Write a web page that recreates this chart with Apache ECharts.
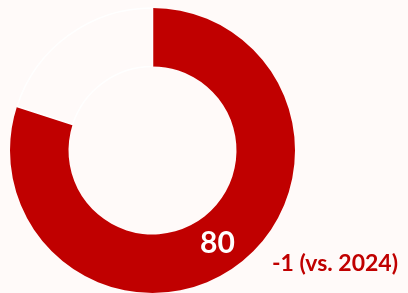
<!DOCTYPE html>
<html>
<head>
<meta charset="utf-8">
<script src="https://cdn.jsdelivr.net/npm/echarts@6/dist/echarts.min.js"></script>
<style>
  html, body { margin: 0; padding: 0; background: #FFFAF9; }
  #chart { width: 408px; height: 293px; }
</style>
</head>
<body>
<div id="chart"></div>
<script>
// score and the rest of the ring
const names = ['Score', 'Rest'];
const values = [80, 20];
const deltaText = '-1 (vs. 2024)';

const chart = echarts.init(document.getElementById('chart'));

const option = {
  backgroundColor: '#FFFAF9',
  animation: false,
  series: [
    {
      type: 'pie',
      center: [152.5, 150.5],
      radius: [84, 142.5],
      startAngle: 90,
      clockwise: true,
      silent: true,
      label: { show: false },
      labelLine: { show: false },
      data: [
        { name: names[0], value: values[0], itemStyle: { color: '#C00000' } },
        { name: names[1], value: values[1], itemStyle: { color: '#FFFAF9', borderColor: '#FFFFFF', borderWidth: 1.5 } },
      ],
    },
  ],
  graphic: [
    {
      type: 'text',
      z: 100,
      x: 217.5,
      y: 243.5,
      style: {
        text: String(values[0]),
        fill: '#FFFFFF',
        font: 'bold 30px Lato',
        align: 'center',
        verticalAlign: 'middle',
      },
    },
    {
      type: 'text',
      z: 100,
      x: 272,
      y: 264,
      style: {
        text: deltaText,
        fill: '#C00000',
        font: 'bold 23px Lato',
        align: 'left',
        verticalAlign: 'middle',
      },
    },
  ],
};

chart.setOption(option);
</script>
</body>
</html>
